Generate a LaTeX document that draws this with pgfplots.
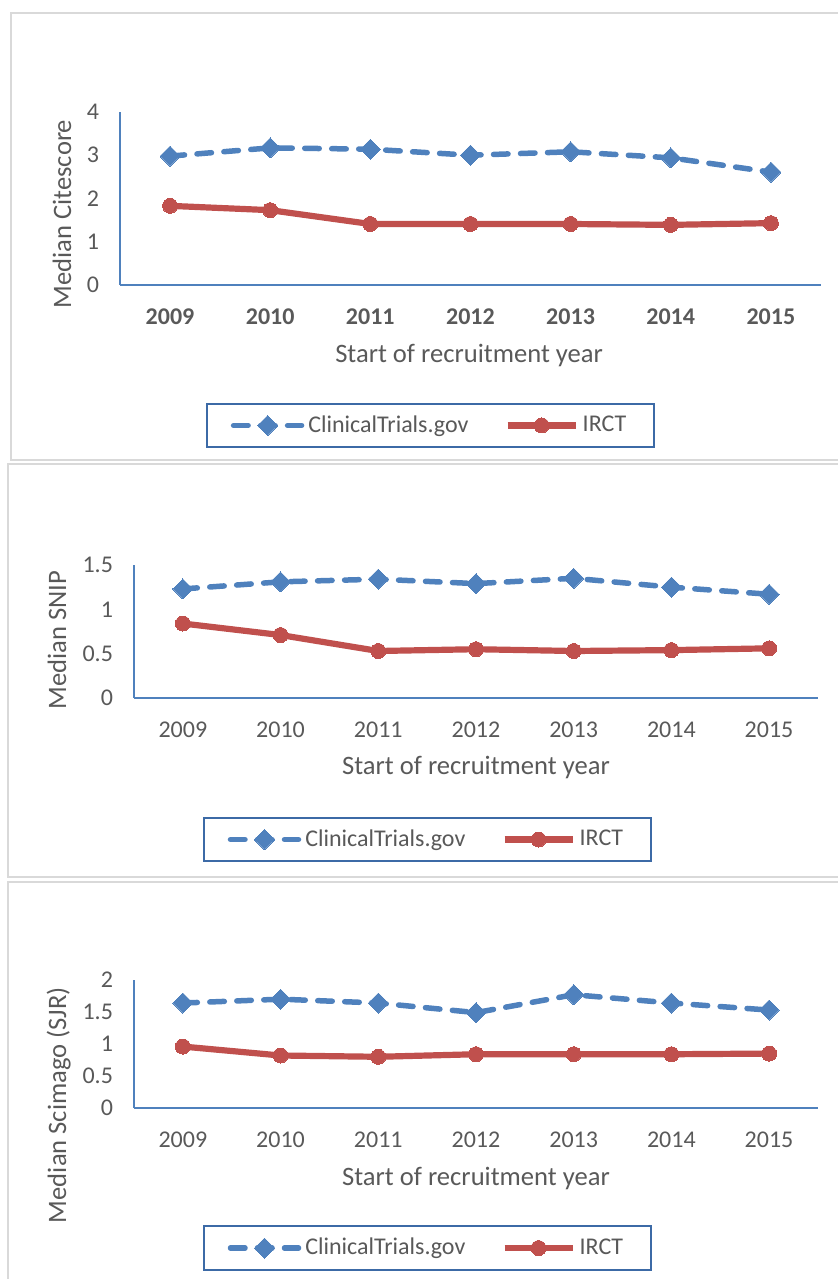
\documentclass[border=0pt]{standalone}
\usepackage{fontspec}
\setmainfont{Carlito}
\usepackage{pgfplots}
\usepackage{pgfplotstable}
\pgfplotsset{compat=1.18}
\definecolor{ctblue}{HTML}{4F81BD}
\definecolor{irred}{HTML}{C0504D}
\definecolor{txtgray}{HTML}{595959}
\definecolor{framegray}{HTML}{D9D9D9}
\definecolor{legblue}{HTML}{3C6AA6}

\pgfplotstableread{
year ct irct
2009 2.98 1.83
2010 3.17 1.73
2011 3.14 1.41
2012 3.00 1.41
2013 3.08 1.41
2014 2.94 1.39
2015 2.61 1.43
}\citescore
\pgfplotstableread{
year ct irct
2009 1.23 0.84
2010 1.31 0.71
2011 1.34 0.53
2012 1.29 0.55
2013 1.35 0.53
2014 1.25 0.54
2015 1.17 0.56
}\snip
\pgfplotstableread{
year ct irct
2009 1.64 0.96
2010 1.70 0.82
2011 1.64 0.80
2012 1.49 0.84
2013 1.77 0.84
2014 1.64 0.84
2015 1.53 0.85
}\sjr

\pgfplotsset{
 panel/.style={
  scale only axis, anchor=south west,
  xmin=2008.5, xmax=2015.5,
  xtick={2009,...,2015}, xticklabels={2009,2010,2011,2012,2013,2014,2015},
  ymin=0,
  axis x line=bottom, axis y line=left,
  axis line style={-, ctblue, line width=1pt},
  major tick length=0pt,
  tick label style={font=\fontsize{12}{14}\selectfont, text=txtgray},
  xticklabel style={yshift=-8.5pt},
  yticklabel style={xshift=-7pt},
  label style={font=\fontsize{13.3}{15}\selectfont, text=txtgray},
  xlabel={Start of recruitment year},
  legend columns=2,
  legend cell align=left,
  legend style={draw=legblue, line width=1pt, fill=white,
    font=\fontsize{12}{14}\selectfont, text=txtgray,
    inner xsep=12pt, inner ysep=4pt,
    /tikz/every even column/.append style={column sep=16pt}},
  legend image code/.code={\draw[mark repeat=2,mark phase=2,##1] plot coordinates {(0pt,0pt)(17pt,0pt)(34pt,0pt)};},
  clip=false,
 },
 ctstyle/.style={ctblue, line width=2.75pt, dash pattern=on 7.25pt off 6.25pt, line cap=round,
   mark=square*, mark size=3.54pt, mark options={solid, rotate=45, fill=ctblue, draw=ctblue, line width=0pt}},
 irstyle/.style={irred, line width=3.1pt, solid,
   mark=*, mark size=3.75pt, mark options={solid, fill=irred, draw=irred, line width=0pt}},
}

\begin{document}
\begin{tikzpicture}
\clip (0,0) rectangle (419pt,639.5pt);
\draw[framegray, line width=0.75pt] (5.5pt,409.5pt) rectangle (430pt,633pt);
\draw[framegray, line width=0.75pt] (4pt,201pt) rectangle (430pt,407.5pt);
\draw[framegray, line width=0.75pt] (4pt,-10pt) rectangle (430pt,198.5pt);

\begin{axis}[panel, at={(60pt,497pt)}, width=350.5pt, height=86.5pt,
  ymax=4, ytick={0,1,2,3,4}, yticklabels={0,1,2,3,4},
  xticklabel style={font=\fontsize{12}{14}\selectfont\bfseries},
  ylabel={Median Citescore},
  ylabel style={at={(axis description cs:-0.0827,0.41)}, anchor=center},
  xlabel style={at={(axis description cs:0.498,-0.405)}, anchor=center},
  legend style={at={(axis description cs:0.443,-0.812)}, anchor=center}]
\addplot[ctstyle] table[x=year, y=ct] {\citescore};
\addlegendentry{ClinicalTrials.gov}
\addplot[irstyle] table[x=year, y=irct] {\citescore};
\addlegendentry{IRCT}
\end{axis}

\begin{axis}[panel, at={(67pt,290.5pt)}, width=342pt, height=66.5pt,
  ymax=1.5, ytick={0,0.5,1,1.5}, yticklabels={0,0.5,1,1.5},
  ylabel={Median SNIP},
  ylabel style={at={(axis description cs:-0.1126,0.436)}, anchor=center},
  xlabel style={at={(axis description cs:0.5,-0.526)}, anchor=center},
  legend style={at={(axis description cs:0.429,-1.064)}, anchor=center}]
\addplot[ctstyle] table[x=year, y=ct] {\snip};
\addlegendentry{ClinicalTrials.gov}
\addplot[irstyle] table[x=year, y=irct] {\snip};
\addlegendentry{IRCT}
\end{axis}

\begin{axis}[panel, at={(67pt,85.5pt)}, width=342pt, height=64pt,
  ymax=2, ytick={0,0.5,1,1.5,2}, yticklabels={0,0.5,1,1.5,2},
  ylabel={Median Scimago (SJR)},
  ylabel style={at={(axis description cs:-0.11,0.023)}, anchor=center},
  xlabel style={at={(axis description cs:0.5,-0.547)}, anchor=center},
  legend style={at={(axis description cs:0.429,-1.094)}, anchor=center}]
\addplot[ctstyle] table[x=year, y=ct] {\sjr};
\addlegendentry{ClinicalTrials.gov}
\addplot[irstyle] table[x=year, y=irct] {\sjr};
\addlegendentry{IRCT}
\end{axis}
\end{tikzpicture}
\end{document}
